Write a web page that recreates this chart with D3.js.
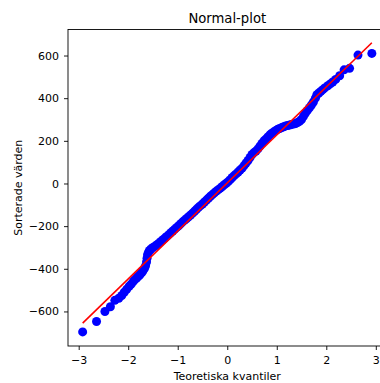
<!DOCTYPE html>
<html>
<head>
<meta charset="utf-8">
<script src="https://cdn.jsdelivr.net/npm/d3@7"></script>
<style>
  body { margin: 0; background: #fff; }
  svg { display: block; font-family: "DejaVu Sans", sans-serif; }
</style>
</head>
<body>
<div id="chart"></div>
<script>
// theoretical quantiles (x) and sorted values (y)
const kvantiler = [-2.92, -2.64, -2.47, -2.36, -2.27, -2.19, -2.13, -2.08, -2.03, -1.98,
  -1.94, -1.90, -1.87, -1.83, -1.80, -1.77, -1.75, -1.72, -1.70, -1.67,
  -1.65, -1.63, -1.62, -1.61, -1.59, -1.57, -1.54, -1.50, -1.46, -1.42,
  -1.38, -1.34, -1.30, -1.26, -1.22, -1.18, -1.14, -1.10, -1.06, -1.02,
  -0.98, -0.94, -0.90, -0.86, -0.82, -0.78, -0.74, -0.70, -0.66, -0.62,
  -0.58, -0.54, -0.50, -0.46, -0.42, -0.38, -0.34, -0.30, -0.26, -0.22,
  -0.18, -0.14, -0.10, -0.06, -0.02, 0.02, 0.06, 0.10, 0.14, 0.18,
  0.22, 0.26, 0.30, 0.34, 0.38, 0.42, 0.46, 0.50, 0.54, 0.58,
  0.62, 0.66, 0.70, 0.74, 0.78, 0.82, 0.86, 0.90, 0.94, 0.98,
  1.02, 1.06, 1.10, 1.14, 1.18, 1.22, 1.26, 1.30, 1.34, 1.38,
  1.42, 1.46, 1.50, 1.54, 1.58, 1.62, 1.66, 1.70, 1.74, 1.78,
  1.81, 1.85, 1.89, 1.93, 1.97, 2.03, 2.08, 2.13, 2.19, 2.27,
  2.36, 2.47, 2.64, 2.92];
const sorterade = [-696, -647, -600, -578, -548, -538, -525, -510, -496, -482,
  -472, -460, -452, -443, -436, -430, -423, -416, -408, -398,
  -386, -368, -350, -334, -322, -314, -307, -300, -294, -287,
  -280, -272, -264, -256, -248, -240, -231, -223, -214, -206,
  -198, -189, -180, -172, -164, -156, -148, -139, -130, -121,
  -112, -104, -96, -87, -78, -69, -60, -52, -44, -36,
  -29, -22, -14, -6, 1, 9, 18, 28, 37, 45,
  54, 63, 72, 84, 96, 108, 122, 136, 145, 152,
  162, 175, 188, 200, 208, 218, 228, 236, 242, 248,
  254, 258, 262, 266, 270, 272, 274, 277, 279, 281,
  286, 292, 300, 315, 330, 343, 355, 368, 382, 400,
  416, 424, 432, 440, 448, 458, 467, 476, 488, 505,
  533, 540, 602, 610];
// fitted line end points
const linjeX = [-2.92, 2.92];
const linjeY = [-655, 660];
const xTicks = [-3, -2, -1, 0, 1, 2, 3];
const yTicks = [-600, -400, -200, 0, 200, 400, 600];

const width = 380, height = 383;
const margin = ({ top: 29.5, left: 68, bottom: 346, right: 386.5 });

const svg = d3.select("#chart").append("svg")
  .attr("width", width)
  .attr("height", height);

const x = d3.scaleLinear()
  .domain([-3.216, 3.216])
  .range([margin.left, margin.right]);

const y = d3.scaleLinear()
  .domain([-762, 722])
  .range([margin.bottom, margin.top]);

// points
svg.append("g")
  .selectAll("circle")
  .data(kvantiler)
  .join("circle")
  .attr("cx", d => x(d))
  .attr("cy", (d, i) => y(sorterade[i]))
  .attr("r", 4.5)
  .attr("fill", "#0000ff");

// red fit line
svg.append("line")
  .attr("x1", x(linjeX[0])).attr("y1", y(linjeY[0]))
  .attr("x2", x(linjeX[1])).attr("y2", y(linjeY[1]))
  .attr("stroke", "#ff0000")
  .attr("stroke-width", 1.6);

// axes
const fmt = d3.format("d");
const xAxis = svg.append("g")
  .attr("transform", `translate(0,${margin.bottom})`)
  .call(d3.axisBottom(x).tickValues(xTicks).tickFormat(fmt).tickSize(4).tickPadding(6).tickSizeOuter(0));

const yAxis = svg.append("g")
  .attr("transform", `translate(${margin.left},0)`)
  .call(d3.axisLeft(y).tickValues(yTicks).tickFormat(fmt).tickSize(4).tickPadding(5).tickSizeOuter(0));

for (const ax of [xAxis, yAxis]) {
  ax.selectAll("text").attr("font-size", 11).attr("font-family", "DejaVu Sans").attr("fill", "#000");
  ax.selectAll("line").attr("stroke", "#000").attr("stroke-width", 0.9);
  ax.select(".domain").remove();
}

// frame
svg.append("rect")
  .attr("x", margin.left)
  .attr("y", margin.top)
  .attr("width", margin.right - margin.left)
  .attr("height", margin.bottom - margin.top)
  .attr("fill", "none")
  .attr("stroke", "#000")
  .attr("stroke-width", 0.9);

// title and labels
svg.append("text")
  .attr("x", x(0))
  .attr("y", 23)
  .attr("text-anchor", "middle")
  .attr("font-size", 13.2)
  .text("Normal-plot");

svg.append("text")
  .attr("x", x(0))
  .attr("y", 380)
  .attr("text-anchor", "middle")
  .attr("font-size", 11)
  .text("Teoretiska kvantiler");

svg.append("text")
  .attr("transform", `translate(21.5,${(margin.top + margin.bottom) / 2}) rotate(-90)`)
  .attr("text-anchor", "middle")
  .attr("font-size", 11)
  .text("Sorterade värden");
</script>
</body>
</html>
